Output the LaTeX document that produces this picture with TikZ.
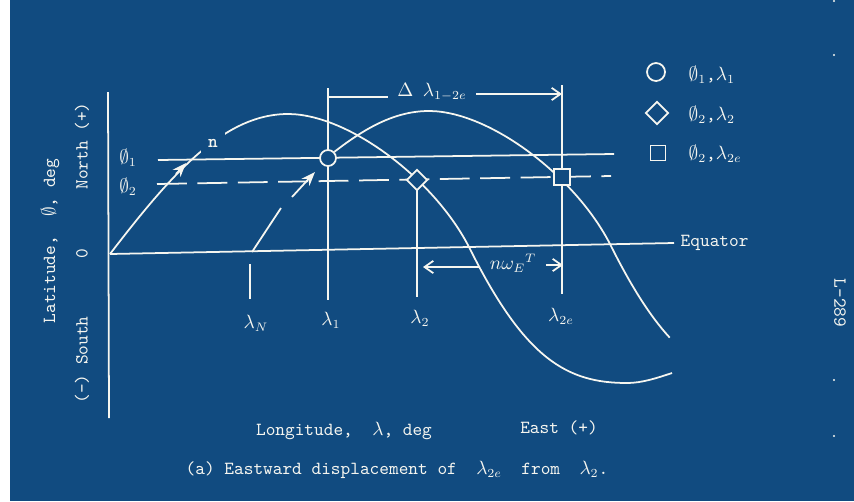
\documentclass[tikz,border=0pt]{standalone}
\usepackage{amsmath}
\usepackage{fontspec}
\usepackage{tikz}
\usetikzlibrary{arrows.meta,shapes.geometric}
\definecolor{printblue}{RGB}{17,75,128}
\definecolor{chalk}{RGB}{246,246,240}

\begin{document}
\begin{tikzpicture}[x=0.02cm,y=-0.02cm,line width=1pt,color=chalk,
  every node/.style={font=\ttfamily\fontsize{10.5}{12}\selectfont},
  ptmark/.style={draw=chalk,fill=printblue,inner sep=0pt,line width=1pt},
  dotmark/.style={ptmark,circle,minimum size=0.32cm},
  rhombmark/.style={ptmark,diamond,minimum size=0.42cm},
  sqmark/.style={ptmark,rectangle,minimum size=0.32cm},
  broken/.style={dash pattern=on 17pt off 6pt},
  tip/.style={-{Straight Barb[length=5pt,width=7pt]}},
  flow/.style={-{Stealth[length=8pt,width=6pt]}}]
\useasboundingbox (0,0) rectangle (854,501);
\fill[white] (0,0) rectangle (854,501);
\fill[printblue] (10,0) rectangle (854,501);

% axes
\coordinate (O) at (110,254);
\draw (108,92) -- (109,418);
\node[anchor=west] (eq) at (674,243) {Equator};
\draw (O) -- (eq.west);
\node[rotate=90] (lat) at (50,241) {Latitude, \ $\emptyset$, deg};
\node[rotate=90] (north) at (82,146) {North (+)};
\node[rotate=90] (zero) at (82,254) {0};
\node[rotate=90] (south) at (82,360) {(-) South};

% latitudes
\node (phione) at (128,158) {$\emptyset_1$};
\node (phitwo) at (128,187) {$\emptyset_2$};
\draw (158,160) -- (614,154);
\draw[broken] (157,184) -- (611,176);

% longitudes
\node (lN) at (256,323) {$\lambda_N$};
\node (l1) at (331,320) {$\lambda_1$};
\node (l2) at (420,318) {$\lambda_2$};
\node (l2e) at (561,316) {$\lambda_{2e}$};
\draw (250,264) -- (250,299);
\draw (328,88) -- (328,300);
\draw (417,180) -- (417,297);
\draw (562,85) -- (562,294);

% first pass
\draw (O) .. controls (170,176) and (223,114) .. (288,114)
  .. controls (348,114) and (435,179) .. (470,249)
  .. controls (525,359) and (567,383) .. (627,383)
  .. controls (642,383) and (657,378) .. (672,373);
\draw[flow] (176,174) -- (186,163);
\node[fill=printblue,inner sep=4pt] (n) at (213,143) {\bfseries n};

% second pass, same track moved east
\draw (252,252) -- (281,208);
\draw[flow] (292,197) -- (315,172);
\begin{scope}[shift={(141,-3)}]
\draw (193.4,154.8) .. controls (226,129.5) and (255.5,114) .. (288,114)
  .. controls (348,114) and (435,179) .. (470,249)
  .. controls (490.9,290.8) and (509.9,320.2) .. (528.7,340.6);
\end{scope}

% points
\node[dotmark] (p1) at (328,158) {};
\node[rhombmark] (p2) at (417,180) {};
\node[sqmark] (p2e) at (562,177) {};

% dimensions
\coordinate (d1) at (328,97);
\coordinate (d2) at (562,94);
\node[inner sep=5pt] (dl) at (432,92) {$\Delta\ \lambda_{1-2e}$};
\draw (d1) -- (d1 -| dl.west);
\draw[tip] (d2 -| dl.east) -- (d2);
\coordinate (e1) at (423,267);
\coordinate (e2) at (563,265);
\node[inner sep=5pt] (nw) at (513,263) {$n\omega_{E}{}^{T}$};
\draw[tip] (e1 -| nw.west) -- (e1);
\draw[tip] (e2 -| nw.east) -- (e2);

% legend
\node[dotmark,minimum size=0.36cm] (k1) at (656,72) {};
\node[anchor=west] (k1t) at (682,75) {$\emptyset_1$,$\lambda_1$};
\node[rhombmark,minimum size=0.46cm] (k2) at (657,113) {};
\node[anchor=west] (k2t) at (682,115) {$\emptyset_2$,$\lambda_2$};
\node[sqmark,minimum size=0.3cm] (k3) at (658,153) {};
\node[anchor=west] (k3t) at (682,154) {$\emptyset_2$,$\lambda_{2e}$};

% captions
\node (xlab) at (344,431) {Longitude, \ $\lambda$, deg};
\node (east) at (559,428) {East (+)};
\node (cap) at (397,470) {(a) Eastward displacement of \ $\lambda_{2e}$\ \ from \ $\lambda_2$.};
\node[rotate=-90] (sheet) at (840,303) {L-289};
\fill (834,1) circle (1.2);
\fill (834,55) circle (1.2);
\fill (834,380) circle (1.2);
\fill (834,436) circle (1.2);
\end{tikzpicture}
\end{document}
